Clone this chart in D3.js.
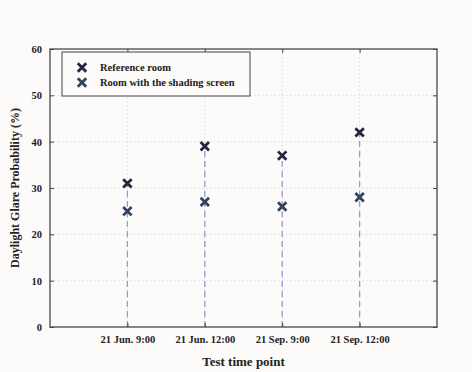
<!DOCTYPE html>
<html>
<head>
<meta charset="utf-8">
<script src="https://cdn.jsdelivr.net/npm/d3@7"></script>
<style>
  html, body { margin: 0; padding: 0; background: #fcfbfa; }
  svg { display: block; }
  text { font-family: "Liberation Serif", "Times New Roman", serif; font-weight: bold; fill: #222; }
</style>
</head>
<body>
<svg id="chart" width="472" height="372"></svg>
<script>
// Test time points and DGP values (%)
const categories = ["21 Jun. 9:00", "21 Jun. 12:00", "21 Sep. 9:00", "21 Sep. 12:00"];
const referenceRoom = [31, 39, 37, 42];
const shadingRoom = [25, 27, 26, 28];
const yTicks = [0, 10, 20, 30, 40, 50, 60];
const seriesNames = ["Reference room", "Room with the shading screen"];
const seriesColors = ["#2a2340", "#34425e"];

const svg = d3.select("#chart");
const m = { left: 50, right: 437, top: 49, bottom: 327 };

const x = d3.scaleLinear().domain([0, categories.length + 1]).range([m.left, m.right]);
const y = d3.scaleLinear().domain([0, 60]).range([m.bottom, m.top]);
const pos = i => x(i + 1);

// dotted grid
const grid = svg.append("g").attr("stroke", "#d2d2d2").attr("stroke-width", 0.8).attr("stroke-dasharray", "1.5,2.5");
grid.selectAll("line.h").data(yTicks.slice(1, -1)).join("line")
  .attr("x1", m.left).attr("x2", m.right).attr("y1", d => y(d)).attr("y2", d => y(d));
grid.selectAll("line.v").data(categories).join("line")
  .attr("x1", (d, i) => pos(i)).attr("x2", (d, i) => pos(i)).attr("y1", m.top).attr("y2", m.bottom);

// dashed drop lines up to the higher value
svg.append("g").selectAll("line").data(referenceRoom).join("line")
  .attr("x1", (d, i) => pos(i)).attr("x2", (d, i) => pos(i))
  .attr("y1", y(0)).attr("y2", d => y(d))
  .attr("stroke", "#9a98d6").attr("stroke-width", 1.3).attr("stroke-dasharray", "6,4");

// frame
svg.append("rect").attr("x", m.left).attr("y", m.top)
  .attr("width", m.right - m.left).attr("height", m.bottom - m.top)
  .attr("fill", "none").attr("stroke", "#555").attr("stroke-width", 1.4);

// axes with inward ticks
const yAxisL = d3.axisLeft(y).tickValues(yTicks).tickSize(-4).tickPadding(8);
const gL = svg.append("g").attr("transform", `translate(${m.left},0)`).call(yAxisL);
gL.select(".domain").remove();
gL.selectAll("text").attr("font-size", 10.5).style("font-family", "Liberation Serif").style("font-weight", "bold").attr("fill", "#222");
gL.selectAll("line").attr("stroke", "#444");

const gR = svg.append("g").attr("transform", `translate(${m.right},0)`)
  .call(d3.axisRight(y).tickValues(yTicks).tickSize(-4).tickFormat(""));
gR.select(".domain").remove();
gR.selectAll("line").attr("stroke", "#444");

const xAxisB = d3.axisBottom(x).tickValues(categories.map((d, i) => i + 1))
  .tickFormat(d => categories[d - 1]).tickSize(-4).tickPadding(9);
const gB = svg.append("g").attr("transform", `translate(0,${m.bottom})`).call(xAxisB);
gB.select(".domain").remove();
gB.selectAll("text").attr("font-size", 10.5).style("font-family", "Liberation Serif").style("font-weight", "bold").attr("fill", "#222");
gB.selectAll("line").attr("stroke", "#444");

const gT = svg.append("g").attr("transform", `translate(0,${m.top})`)
  .call(d3.axisTop(x).tickValues(categories.map((d, i) => i + 1)).tickSize(-4).tickFormat(""));
gT.select(".domain").remove();
gT.selectAll("line").attr("stroke", "#444");

// X markers
function cross(g, cx, cy, color, r) {
  g.append("path")
    .attr("d", `M${cx - r},${cy - r}L${cx + r},${cy + r}M${cx - r},${cy + r}L${cx + r},${cy - r}`)
    .attr("stroke", color).attr("stroke-width", 2.8).attr("fill", "none");
}
const marks = svg.append("g");
[referenceRoom, shadingRoom].forEach((vals, s) => {
  vals.forEach((v, i) => cross(marks, pos(i), y(v), seriesColors[s], 4.2));
});

// legend
const leg = svg.append("g");
leg.append("rect").attr("x", 62).attr("y", 52).attr("width", 188).attr("height", 44)
  .attr("fill", "#fcfbfa").attr("stroke", "#444").attr("stroke-width", 1);
seriesNames.forEach((name, s) => {
  const cy = 67.5 + s * 15;
  cross(leg, 82, cy, seriesColors[s], 4.2);
  leg.append("text").attr("x", 100).attr("y", cy + 3.8).attr("font-size", 10.5).text(name);
});

// axis titles
svg.append("text").attr("x", (m.left + m.right) / 2).attr("y", 366)
  .attr("text-anchor", "middle").attr("font-size", 13).text("Test time point");
svg.append("text").attr("transform", `translate(19,${(m.top + m.bottom) / 2}) rotate(-90)`)
  .attr("text-anchor", "middle").attr("font-size", 12).text("Daylight Glare Probability (%)");
</script>
</body>
</html>
